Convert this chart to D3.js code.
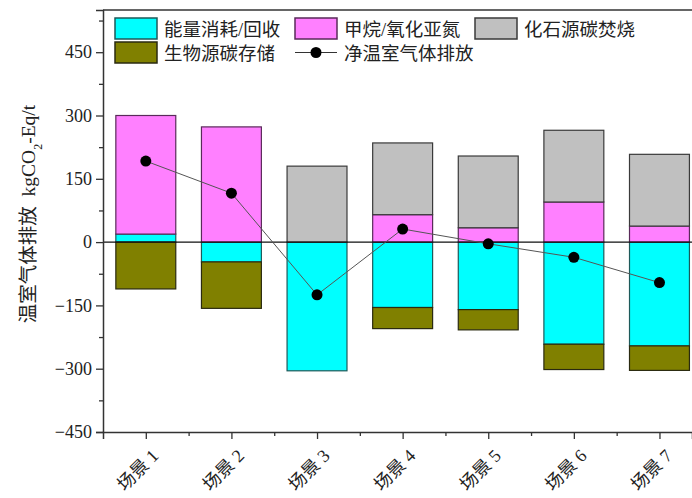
<!DOCTYPE html>
<html>
<head>
<meta charset="utf-8">
<script src="https://cdn.jsdelivr.net/npm/d3@7"></script>
<style>
  html, body { margin: 0; padding: 0; background: #fff; }
  svg { display: block; }
  text { font-family: "Liberation Serif", "Noto Sans CJK SC", serif; fill: #222; }
</style>
</head>
<body>
<svg id="chart" width="692" height="498"></svg>
<script>
// Scenario names
const scenarios = ["场景 1", "场景 2", "场景 3", "场景 4", "场景 5", "场景 6", "场景 7"];
// Emission components per scenario (kgCO2-Eq/t)
const energyUse   = [19, -47, -305, -155, -160, -242, -246];   // 能量消耗/回收
const methaneN2O  = [281, 273, 0, 65, 34, 95, 38];            // 甲烷/氧化亚氮
const fossilCarbon = [0, 0, 180, 170, 170, 170, 170];         // 化石源碳焚烧
const bioStorage  = [-111, -110, 0, -50, -48, -60, -58];      // 生物源碳存储
const netEmission = [192, 116, -125, 31, -4, -36, -96];       // 净温室气体排放
// Axis ticks
const yMajorTicks = [-450, -300, -150, 0, 150, 300, 450];
const yMinorTicks = [-375, -225, -75, 75, 225, 375, 525];

const series = [
  { name: "能量消耗/回收", values: energyUse,   fill: "#00ffff", stroke: "#1d5a5a" },
  { name: "甲烷/氧化亚氮", values: methaneN2O,  fill: "#ff80ff", stroke: "#5a2a5a" },
  { name: "化石源碳焚烧", values: fossilCarbon, fill: "#c0c0c0", stroke: "#3a3a3a" },
  { name: "生物源碳存储", values: bioStorage,  fill: "#808000", stroke: "#2a2a10" }
];

const svg = d3.select("#chart");
const plotL = 103, plotT = 10, plotB = 432, plotR = 692;

const x = d3.scaleLinear().domain([0.5, 7.38]).range([plotL, plotR]);
const y = d3.scaleLinear().domain([-450, 550]).range([plotB, plotT]);
const barW = x(1.7) - x(1);

// Stack positive and negative parts separately, in drawing order
const rects = [];
scenarios.forEach((s, i) => {
  let pos = 0, neg = 0;
  series.forEach(ser => {
    const v = ser.values[i];
    if (v === 0) return;
    let y0, y1;
    if (v > 0) { y0 = pos; y1 = pos + v; pos = y1; }
    else { y0 = neg; y1 = neg + v; neg = y1; }
    rects.push({ i, y0, y1, fill: ser.fill, stroke: ser.stroke });
  });
});

svg.append("g").selectAll("rect").data(rects).join("rect")
  .attr("x", d => x(d.i + 1) - barW / 2)
  .attr("width", barW)
  .attr("y", d => y(Math.max(d.y0, d.y1)))
  .attr("height", d => Math.abs(y(d.y0) - y(d.y1)))
  .attr("fill", d => d.fill)
  .attr("stroke", d => d.stroke)
  .attr("stroke-width", 1.2);

// Zero line
svg.append("line")
  .attr("x1", plotL).attr("x2", plotR)
  .attr("y1", y(0)).attr("y2", y(0))
  .attr("stroke", "#111").attr("stroke-width", 1.3);

// Net emission line and points
const line = d3.line().x((d, i) => x(i + 1)).y(d => y(d));
svg.append("path")
  .datum(netEmission)
  .attr("d", line)
  .attr("fill", "none")
  .attr("stroke", "#555")
  .attr("stroke-width", 1);
svg.append("g").selectAll("circle").data(netEmission).join("circle")
  .attr("cx", (d, i) => x(i + 1))
  .attr("cy", d => y(d))
  .attr("r", 5.5)
  .attr("fill", "#000");

// Frame: top line
svg.append("line").attr("x1", plotL).attr("x2", plotR).attr("y1", plotT).attr("y2", plotT)
  .attr("stroke", "#333").attr("stroke-width", 1.5);

// Y axis
const yAxis = svg.append("g").attr("transform", `translate(${plotL},0)`)
  .call(d3.axisLeft(y).tickValues(yMajorTicks).tickSize(7).tickPadding(4));
yAxis.select(".domain").attr("stroke", "#333").attr("stroke-width", 1.5);
yAxis.selectAll(".tick line").attr("stroke", "#333").attr("stroke-width", 1.3);
yAxis.selectAll(".tick text").style("font-size", "18px").attr("fill", "#222");
const yMinor = svg.append("g").attr("transform", `translate(${plotL},0)`)
  .call(d3.axisLeft(y).tickValues(yMinorTicks).tickSize(4).tickFormat(""));
yMinor.select(".domain").remove();
yMinor.selectAll(".tick line").attr("stroke", "#333").attr("stroke-width", 1.3);

// X axis
const xAxis = svg.append("g").attr("transform", `translate(0,${plotB})`)
  .call(d3.axisBottom(x).tickValues(d3.range(1, 8)).tickSize(7).tickFormat(""));
xAxis.select(".domain").attr("stroke", "#333").attr("stroke-width", 1.5);
xAxis.selectAll(".tick line").attr("stroke", "#333").attr("stroke-width", 1.3);
const xMinor = svg.append("g").attr("transform", `translate(0,${plotB})`)
  .call(d3.axisBottom(x).tickValues(d3.range(1.5, 7.5, 1)).tickSize(4).tickFormat(""));
xMinor.select(".domain").remove();
xMinor.selectAll(".tick line").attr("stroke", "#333").attr("stroke-width", 1.3);

// Rotated scenario labels
svg.append("g").selectAll("text").data(scenarios).join("text")
  .attr("transform", (d, i) => `translate(${x(i + 1) + 5},${plotB + 16}) rotate(-45)`)
  .attr("text-anchor", "end")
  .attr("dy", "0.7em")
  .style("font-size", "18px")
  .text(d => d);

// Y axis title
svg.append("text")
  .attr("transform", `translate(35,214) rotate(-90)`)
  .attr("text-anchor", "middle")
  .style("font-size", "19.5px")
  .html('温室气体排放 &#160;kgCO<tspan baseline-shift="sub" style="font-size:12px">2</tspan>-Eq/t');

// Legend
const legendItems = [
  { name: series[0].name, fill: series[0].fill, stroke: series[0].stroke, col: 0, row: 0 },
  { name: series[1].name, fill: series[1].fill, stroke: series[1].stroke, col: 1, row: 0 },
  { name: series[2].name, fill: series[2].fill, stroke: series[2].stroke, col: 2, row: 0 },
  { name: series[3].name, fill: series[3].fill, stroke: series[3].stroke, col: 0, row: 1 },
  { name: "净温室气体排放", line: true, col: 1, row: 1 }
];
const colX = [115, 295, 475];
const rowY = [18, 42];
const lg = svg.append("g").selectAll("g").data(legendItems).join("g")
  .attr("transform", d => `translate(${colX[d.col]},${rowY[d.row]})`);
lg.filter(d => !d.line).append("rect")
  .attr("x", 0).attr("y", 0).attr("width", 42).attr("height", 21)
  .attr("fill", d => d.fill).attr("stroke", d => d.stroke).attr("stroke-width", 1.5);
const ll = lg.filter(d => d.line);
ll.append("line").attr("x1", 0).attr("x2", 42).attr("y1", 10.5).attr("y2", 10.5)
  .attr("stroke", "#333").attr("stroke-width", 1.2);
ll.append("circle").attr("cx", 21).attr("cy", 10.5).attr("r", 5.5).attr("fill", "#000");
lg.append("text")
  .attr("x", 49).attr("y", 17.5)
  .style("font-size", "18.5px")
  .text(d => d.name);
</script>
</body>
</html>
